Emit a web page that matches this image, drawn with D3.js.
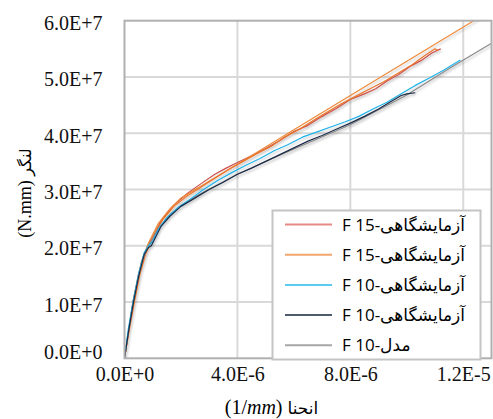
<!DOCTYPE html>
<html>
<head>
<meta charset="utf-8">
<script src="https://cdn.jsdelivr.net/npm/d3@7"></script>
<style>
  body { margin: 0; background: #fff; }
  svg { display: block; }
</style>
</head>
<body>
<svg id="chart" width="493" height="419"></svg>
<script>
// curvature in 1E-6 (1/mm), moment in 1E7 (N.mm)
let xTicks = [0, 4e-6, 8e-6, 1.2e-5];
let yTicks = [0, 1e7, 2e7, 3e7, 4e7, 5e7, 6e7];

let f15ExpRed = [[0,0],[0.15,0.5],[0.3,1.0],[0.5,1.5],[0.7,1.85],[0.82,2.0],[1.0,2.15],[1.3,2.45],[1.7,2.7],[2.2,2.92],[2.7,3.1],[3.2,3.27],[3.6,3.38],[4.0,3.48],[4.5,3.6],[5.0,3.73],[5.5,3.87],[6.0,4.03],[6.5,4.14],[7.0,4.3],[7.5,4.44],[8.0,4.6],[8.5,4.7],[8.9,4.79],[9.3,4.93],[9.7,5.04],[10.1,5.18],[10.5,5.29],[10.9,5.43],[11.2,5.5]];
let f15ExpOrange = [[0,0],[0.17,0.5],[0.35,1.0],[0.55,1.5],[0.75,1.85],[0.88,2.0],[1.05,2.2],[1.35,2.46],[1.75,2.7],[2.2,2.88],[2.7,3.04],[3.2,3.2],[3.7,3.36],[4.2,3.5],[4.7,3.64],[5.2,3.77],[5.7,3.94],[6.2,4.07],[6.7,4.23],[7.2,4.38],[7.7,4.53],[8.2,4.66],[8.7,4.79],[9.2,4.92],[9.7,5.07],[10.2,5.22],[10.6,5.37],[11.0,5.5],[11.1,5.47]];
let f15Model = [[0,0],[0.3,1.0],[0.6,1.72],[0.85,2.05],[1.2,2.4],[1.6,2.65],[2.0,2.85],[2.67,3.05],[4,3.45],[6,4.06],[8,4.67],[10,5.28],[12.37,6.0],[13,6.19]];
let f10ExpBlue = [[0,0],[0.13,0.5],[0.3,1.0],[0.5,1.5],[0.7,1.88],[0.85,2.0],[1.0,2.08],[1.2,2.3],[1.5,2.5],[1.9,2.68],[2.3,2.82],[2.8,3.0],[3.3,3.16],[3.8,3.3],[4.3,3.43],[4.8,3.55],[5.3,3.69],[5.8,3.8],[6.3,3.93],[6.8,4.02],[7.3,4.11],[7.8,4.2],[8.3,4.3],[8.8,4.43],[9.3,4.55],[9.8,4.7],[10.3,4.85],[10.8,4.98],[11.3,5.12],[11.9,5.3]];
let f10ExpNavy = [[0,0],[0.15,0.5],[0.32,1.0],[0.5,1.45],[0.7,1.85],[0.85,1.97],[0.95,2.0],[1.1,2.15],[1.3,2.35],[1.6,2.52],[2.0,2.7],[2.4,2.82],[3.0,3.0],[3.5,3.13],[4.0,3.27],[4.5,3.38],[5.0,3.5],[5.5,3.62],[6.0,3.74],[6.5,3.86],[7.0,3.96],[7.5,4.07],[8.0,4.18],[8.5,4.3],[9.0,4.43],[9.5,4.58],[9.8,4.67],[10.0,4.7],[10.3,4.72]];
let f10Model = [[0,0],[0.3,1.0],[0.6,1.7],[0.85,2.0],[1.2,2.3],[1.6,2.55],[2.0,2.72],[2.67,2.92],[4,3.27],[6,3.72],[8,4.15],[10,4.68],[11.5,5.15],[13,5.6]];

let legendLabels = ['F 15-آزمایشگاهی', 'F 15-آزمایشگاهی', 'F 10-آزمایشگاهی', 'F 10-آزمایشگاهی', 'F 10-مدل'];

let series = [
	{ data: f15ExpRed, color: '#c9504b' },
	{ data: f15Model, color: '#f08a3a' },
	{ data: f15ExpOrange, color: '#e8742a' },
	{ data: f10Model, color: '#8a8a8a' },
	{ data: f10ExpBlue, color: '#1fb2e8' },
	{ data: f10ExpNavy, color: '#1c2c48' }
];
let legendColors = ['#e58a86', '#f2a66c', '#5ccbf0', '#4d5b6c', '#a6a6a6'];

let XU = 1e-6, YU = 1e7;

let svg = d3.select('#chart');
let margin = { top: 20.7, right: 1.5, bottom: 60.7, left: 124.5 };
let width = +svg.attr('width') - margin.left - margin.right;
let height = +svg.attr('height') - margin.top - margin.bottom;

let x = d3.scaleLinear().domain([0, 1.3e-5]).range([0, width]);
let y = d3.scaleLinear().domain([0, 6e7]).range([height, 0]);

function sci(v) {
	if (v === 0) return '0.0E+0';
	let e = Math.floor(Math.log10(Math.abs(v)) + 1e-9);
	let m = v / Math.pow(10, e);
	return m.toFixed(1) + 'E' + (e >= 0 ? '+' : '-') + Math.abs(e);
}

let defs = svg.append('defs');
defs.append('clipPath').attr('id', 'clip')
	.append('rect').attr('width', width).attr('height', height);
let shadow = defs.append('filter').attr('id', 'shadow')
	.attr('x', '-10%').attr('y', '-10%').attr('width', '130%').attr('height', '130%');
shadow.append('feDropShadow')
	.attr('dx', 1).attr('dy', 2).attr('stdDeviation', 1.2)
	.attr('flood-color', '#000').attr('flood-opacity', 0.22);

let chart = svg.append('g')
	.attr('transform', 'translate(' + margin.left + ',' + margin.top + ')');

// grid
chart.append('g')
	.selectAll('line')
	.data(yTicks.slice(1, -1))
	.enter().append('line')
	.attr('x1', 0).attr('x2', width)
	.attr('y1', d => y(d)).attr('y2', d => y(d))
	.attr('stroke', '#d9d9d9').attr('stroke-width', 2);
chart.append('g')
	.selectAll('line')
	.data(xTicks.slice(1))
	.enter().append('line')
	.attr('x1', d => x(d)).attr('x2', d => x(d))
	.attr('y1', 0).attr('y2', height)
	.attr('stroke', '#d9d9d9').attr('stroke-width', 2);

// axes (labels only)
let xAxis = d3.axisBottom(x).tickValues(xTicks).tickFormat(sci).tickSize(0).tickPadding(9);
let yAxis = d3.axisLeft(y).tickValues(yTicks).tickFormat(sci).tickSize(0).tickPadding(22);

let gx = chart.append('g').attr('transform', 'translate(0,' + height + ')').call(xAxis);
let gy = chart.append('g').call(yAxis);
[gx, gy].forEach(function(g) {
	g.select('.domain').remove();
	g.selectAll('text')
		.attr('fill', '#111')
		.style('font-family', '"Liberation Serif", "Times New Roman", serif')
		.style('font-size', '20px');
});
gy.selectAll('.tick text').attr('dy', '0.45em');
gy.selectAll('.tick').filter(d => d === 0).select('text').attr('dy', '0.0em');

// lines
let line = d3.line()
	.x(d => x(d[0] * XU))
	.y(d => y(d[1] * YU));

let lines = chart.append('g').attr('clip-path', 'url(#clip)').attr('filter', 'url(#shadow)');
series.forEach(function(s) {
	lines.append('path')
		.datum(s.data)
		.attr('fill', 'none')
		.attr('stroke', s.color)
		.attr('stroke-width', 1.2)
		.attr('stroke-linejoin', 'round')
		.attr('d', line);
});

// plot border
chart.append('rect')
	.attr('width', width).attr('height', height)
	.attr('fill', 'none').attr('stroke', '#b0b0b0').attr('stroke-width', 2);

// legend
let legend = svg.append('g');
legend.append('rect')
	.attr('x', 272.5).attr('y', 210.5).attr('width', 208).attr('height', 149)
	.attr('fill', '#fff').attr('stroke', '#c4c4c4').attr('stroke-width', 2);
legendLabels.forEach(function(lbl, i) {
	let ly = 224.5 + i * 30.2;
	legend.append('line')
		.attr('x1', 285).attr('x2', 332).attr('y1', ly).attr('y2', ly)
		.attr('stroke', legendColors[i]).attr('stroke-width', 2);
	legend.append('text')
		.attr('x', 342).attr('y', ly + 6)
		.attr('direction', 'ltr')
		.style('font-family', '"Open Sans", "DejaVu Sans", sans-serif')
		.style('font-size', '17px')
		.attr('fill', '#000')
		.text(lbl);
});

// axis titles
let xt = svg.append('text')
	.attr('x', 271.5).attr('y', 414)
	.attr('text-anchor', 'middle')
	.attr('direction', 'ltr')
	.style('font-family', '"Liberation Serif", serif')
	.style('font-size', '20px');
xt.append('tspan').text('(1/');
xt.append('tspan').style('font-style', 'italic').text('mm');
xt.append('tspan').text(') ');
xt.append('tspan').style('font-family', '"DejaVu Sans", sans-serif').style('font-size', '17px').text('انحنا');

let yt = svg.append('text')
	.attr('transform', 'translate(31,193) rotate(-90)')
	.attr('text-anchor', 'middle')
	.attr('direction', 'ltr')
	.style('font-family', '"Liberation Serif", serif')
	.style('font-size', '18px');
yt.append('tspan').text('(N.mm) ');
yt.append('tspan').style('font-family', '"DejaVu Sans", sans-serif').style('font-size', '16px').text('لنگر');
</script>
</body>
</html>
